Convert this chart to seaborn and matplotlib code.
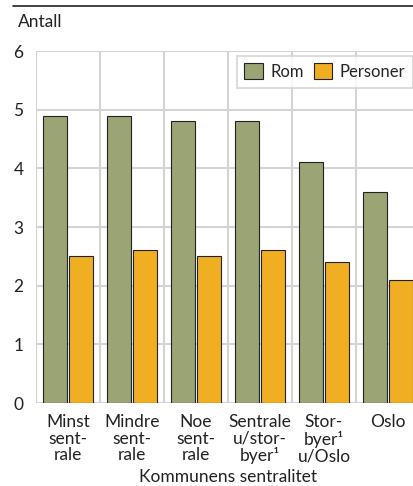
import matplotlib
matplotlib.use("Agg")
import matplotlib.pyplot as plt
from matplotlib.lines import Line2D
import seaborn as sns
import pandas as pd

categories = [
    "Minst\nsent-\nrale",
    "Mindre\nsent-\nrale",
    "Noe\nsent-\nrale",
    "Sentrale\nu/stor-\nbyer¹",
    "Stor-\nbyer¹\nu/Oslo",
    "Oslo",
]
rom = [4.9, 4.9, 4.8, 4.8, 4.1, 3.6]
personer = [2.5, 2.6, 2.5, 2.6, 2.4, 2.1]
series = ["Rom", "Personer"]
colors = ["#9ba474", "#f0ae23"]

df = pd.DataFrame({
    "kategori": categories * 2,
    "verdi": rom + personer,
    "serie": ["Rom"] * len(rom) + ["Personer"] * len(personer),
})

sns.set_theme(style="white")
plt.rcParams["font.family"] = ["Lato", "DejaVu Sans"]

fs = 12.5
fig = plt.figure(figsize=(4.14, 4.86), dpi=100)
ax = fig.add_axes([36 / 414, 83 / 486, 384 / 414, 352 / 486])

sns.barplot(data=df, x="kategori", y="verdi", hue="serie", hue_order=series,
            palette=colors, saturation=1, width=0.8, gap=0.05, edgecolor="#222222",
            linewidth=0.8, ax=ax, legend=True, zorder=3)

ax.set_ylim(0, 6)
ax.set_xlim(-0.5, len(categories) - 0.5)
ax.set_yticks(range(0, 7))
ax.set_xticks([i + 0.5 for i in range(-1, len(categories))], minor=True)
ax.grid(axis="y", which="major", color="#d4d4d4", linewidth=1.5, zorder=0)
ax.grid(axis="x", which="minor", color="#d4d4d4", linewidth=1.5, zorder=0)
ax.set_axisbelow(True)
for s in ax.spines.values():
    s.set_visible(False)
ax.tick_params(axis="both", which="both", length=0, labelsize=fs, colors="#222222")
ax.tick_params(axis="y", pad=9)
ax.tick_params(axis="x", pad=8)
for lbl in ax.get_xticklabels():
    lbl.set_linespacing(1.05)
    lbl.set_verticalalignment("top")

ax.set_ylabel("")
ax.set_xlabel("Kommunens sentralitet", fontsize=fs, color="#222222", labelpad=3)
fig.text(18 / 414, 1 - 22 / 486, "Antall", fontsize=fs, color="#222222", va="center")

leg = ax.legend(loc="upper left", bbox_to_anchor=(0.523, 0.986), ncol=2, frameon=True,
                fontsize=12, handlelength=1.1, handleheight=1.1, handletextpad=0.45,
                columnspacing=0.6, borderpad=0.45, borderaxespad=0, fancybox=False,
                title=None)
leg.get_frame().set_edgecolor("#d4d4d4")
leg.get_frame().set_linewidth(1.5)

fig.add_artist(Line2D([13 / 414, 1.0], [1 - 6 / 486, 1 - 6 / 486],
                      color="#222222", linewidth=1.2, transform=fig.transFigure))

fig.savefig("out.png", dpi=100)
